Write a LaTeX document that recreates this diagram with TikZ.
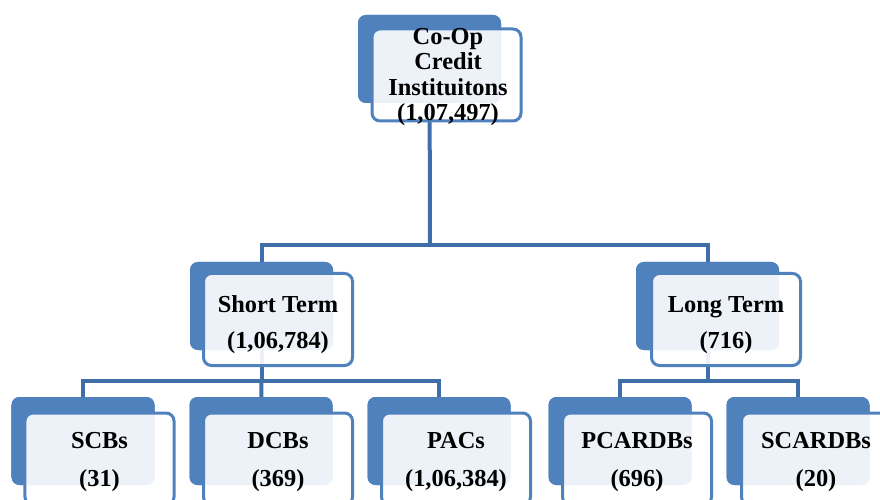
\documentclass[tikz,border=0pt]{standalone}
\usepackage{fontspec}
\setmainfont{Liberation Serif}
\definecolor{boxblue}{HTML}{4F81BD}
\definecolor{lineblue}{HTML}{3F6FA8}
\tikzset{
  backbox/.style={fill=boxblue, rounded corners=8bp, minimum width=143bp, minimum height=88bp, inner sep=0pt},
  frontbox/.style={draw=boxblue, line width=3bp, fill=white, fill opacity=0.9, rounded corners=8bp, minimum width=149bp, minimum height=92bp, inner sep=0pt},
  lbl/.style={align=center, inner sep=0pt, font=\bfseries\fontsize{24.5}{36}\selectfont},
  conn/.style={draw=lineblue, line width=4bp}
}
\begin{document}
\begin{tikzpicture}[x=1bp,y=-1bp]
\useasboundingbox (0,0) rectangle (880,500);
% junctions
\coordinate (j1) at (430,245);
\coordinate (j2) at (261.5,381);
\coordinate (j3) at (707.5,381);
% back boxes
\node[backbox] (topb) at (429.5,59) {};
\node[backbox] (shortb) at (261.5,306) {};
\node[backbox] (longb) at (707.5,306) {};
\node[backbox] (scbb) at (83,441) {};
\node[backbox] (dcbb) at (261,441) {};
\node[backbox] (pacb) at (439,441) {};
\node[backbox] (pcab) at (620,441) {};
\node[backbox] (scab) at (798,441) {};
% connectors
\draw[conn] (topb.center) -- (j1);
\draw[conn] (j1) -| (shortb.center);
\draw[conn] (j1) -| (longb.center);
\draw[conn] (shortb.center) -- (j2);
\draw[conn] (j2) -| (scbb.center);
\draw[conn] (j2) -| (pacb.center);
\draw[conn] (j2) -- (dcbb.center);
\draw[conn] (longb.center) -- (j3);
\draw[conn] (j3) -| (pcab.center);
\draw[conn] (j3) -| (scab.center);
% back boxes again, over the connectors
\foreach \n in {topb,shortb,longb,scbb,dcbb,pacb,pcab,scab}
  \node[backbox] at (\n) {};
% front boxes
\node[frontbox] (top) at (446.5,75) {};
\node[frontbox] (short) at (278,319.5) {};
\node[frontbox] (long) at (726,319.5) {};
\node[frontbox] (scb) at (99.5,459) {};
\node[frontbox] (dcb) at (278,459) {};
\node[frontbox] (pac) at (456,459) {};
\node[frontbox] (pca) at (637,459) {};
\node[frontbox] (sca) at (816,459) {};
% texts
\node[lbl, font=\bfseries\fontsize{24.5}{25.5}\selectfont] (topt) at (448,77) {Co-Op\\Credit\\Instituitons\\(1,07,497)};
\node[lbl] (shortt) at (278,325) {Short Term\\(1,06,784)};
\node[lbl] (longt) at (726,325) {Long Term\\(716)};
\node[lbl, font=\bfseries\fontsize{24.5}{38}\selectfont] (scbt) at (99.5,462) {SCBs\\(31)};
\node[lbl, font=\bfseries\fontsize{24.5}{38}\selectfont] (dcbt) at (278,462) {DCBs\\(369)};
\node[lbl, font=\bfseries\fontsize{24.5}{38}\selectfont] (pact) at (456,462) {PACs\\(1,06,384)};
\node[lbl, font=\bfseries\fontsize{24.5}{38}\selectfont] (pcat) at (637,462) {PCARDBs\\(696)};
\node[lbl, font=\bfseries\fontsize{24.5}{38}\selectfont] (scat) at (816,462) {SCARDBs\\(20)};
\end{tikzpicture}
\end{document}
